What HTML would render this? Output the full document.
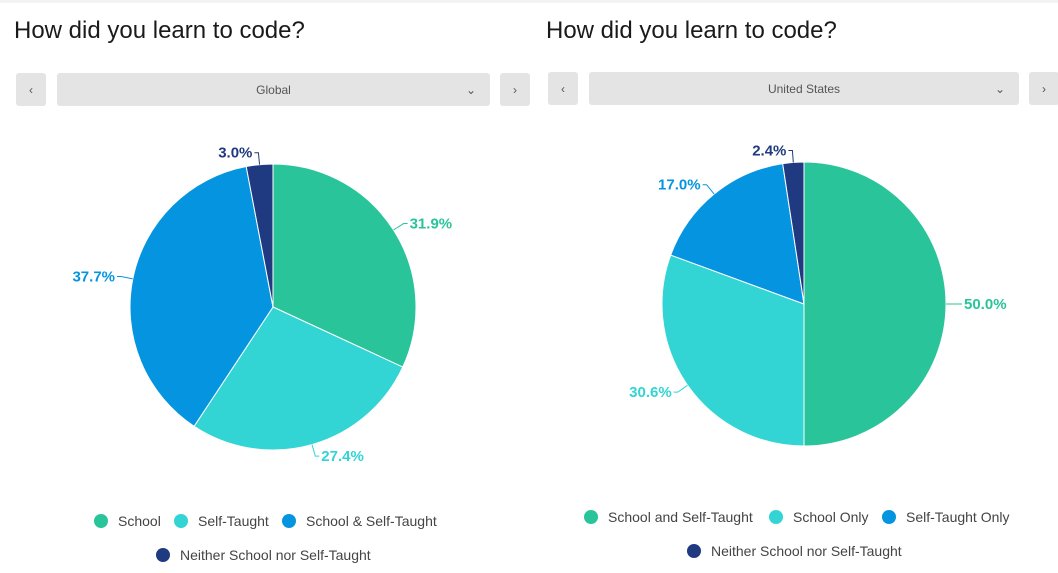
<!DOCTYPE html>
<html><head><meta charset="utf-8"><style>
body{margin:0;width:1058px;height:573px;background:#fff;font-family:"Liberation Sans",sans-serif;overflow:hidden;position:relative}
.t{position:absolute;font-size:24px;color:#1a1a1a}
.b{position:absolute;background:#e4e4e4;border-radius:3px;height:33px;font-size:12px;color:#555;display:flex;align-items:center;justify-content:center}
svg{position:absolute;left:0;top:0}
</style></head><body>
<div style="position:absolute;left:0;top:0;width:1058px;height:3px;background:#f3f3f3"></div>
<div class="t" style="left:14px;top:17px">How did you learn to code?</div>
<div class="t" style="left:546px;top:17px">How did you learn to code?</div>
<div class="b" style="left:16px;top:73px;width:30px">‹</div>
<div class="b" style="left:57px;top:73px;width:433px">Global<span style="position:absolute;right:14px">⌄</span></div>
<div class="b" style="left:500px;top:73px;width:30px">›</div>
<div class="b" style="left:548px;top:72px;width:30px">‹</div>
<div class="b" style="left:589px;top:72px;width:430px">United States<span style="position:absolute;right:14px">⌄</span></div>
<div class="b" style="left:1029px;top:72px;width:30px">›</div>
<svg id="s" width="1058" height="573"></svg>
<script>
const globalCats=["School","Self-Taught","School & Self-Taught","Neither School nor Self-Taught"];
const globalVals=[31.9,27.4,37.7,3.0];
const usCats=["School and Self-Taught","School Only","Self-Taught Only","Neither School nor Self-Taught"];
const usVals=[50.0,30.6,17.0,2.4];
const colors=["#2ac49b","#32d4d4","#0595e0","#1f3a80"];
const NS="http://www.w3.org/2000/svg";
const svg=document.getElementById('s');
function mk(t,a){const e=document.createElementNS(NS,t);for(const k in a)e.setAttribute(k,a[k]);svg.appendChild(e);return e;}
function pie(cx,cy,r,vals,key){
 const tot=vals.reduce((a,b)=>a+b,0);let a0=0;
 vals.forEach((v,i)=>{
  const a1=a0+v/tot*2*Math.PI;
  const p=a=>[cx+r*Math.sin(a),cy-r*Math.cos(a)];
  const [x0,y0]=p(a0),[x1,y1]=p(a1);
  const e=mk('path',{d:`M${cx},${cy}L${x0},${y0}A${r},${r} 0 ${a1-a0>Math.PI?1:0} 1 ${x1},${y1}Z`,fill:colors[i],stroke:'#fff','stroke-width':1});
  
  
  const m=(a0+a1)/2,s=Math.sin(m),c=-Math.cos(m);
  const ax=cx+r*s,ay=cy+r*c,bx=cx+(r+12)*s,by=cy+(r+12)*c;
  const right=s>=0;const ex=bx+(right?4:-4);
  const l=mk('polyline',{points:`${ax},${ay} ${bx},${by} ${ex},${by}`,fill:'none',stroke:colors[i],'stroke-width':1});
  
  
  const t=mk('text',{x:ex+(right?2:-2),y:by+5,'text-anchor':right?'start':'end','font-size':15,'font-weight':'bold',fill:colors[i]});
  t.textContent=v.toFixed(1)+'%';
  
  
  a0=a1;
 });
}
pie(273,307,143,globalVals,'global');
pie(804,304,142,usVals,'us');
function legend(items,key){
 items.forEach(([x,y],i)=>{
  const c=mk('circle',{cx:x,cy:y,r:7,fill:colors[i]});
  
  
  const cats=key==='global'?globalCats:usCats;
  const t=mk('text',{x:x+17,y:y+5,'font-size':14,fill:'#444'});
  t.textContent=cats[i];
  
  
 });
}
legend([[101,521],[181,521],[289,521],[163,555]],'global');
legend([[591,517],[776,517],[889,517],[694,551]],'us');
</script>
</body></html>
